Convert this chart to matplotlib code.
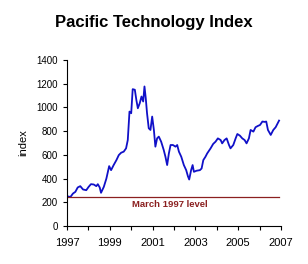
import matplotlib
matplotlib.use("Agg")
import matplotlib.pyplot as plt
from matplotlib.ticker import MultipleLocator

plt.rcParams['font.family'] = ['Liberation Sans', 'DejaVu Sans']

# index values
years = [1997.00, 1997.16, 1997.28, 1997.39, 1997.50, 1997.62, 1997.75, 1997.90,
         1998.01, 1998.12, 1998.25, 1998.37, 1998.44, 1998.53, 1998.59, 1998.72,
         1998.84, 1998.97, 1999.06, 1999.18, 1999.31, 1999.42, 1999.53, 1999.65,
         1999.76, 1999.84, 1999.92, 2000.00, 2000.07, 2000.17, 2000.24, 2000.31,
         2000.40, 2000.48, 2000.56, 2000.62, 2000.68, 2000.74, 2000.82, 2000.90,
         2000.98, 2001.06, 2001.13, 2001.21, 2001.29, 2001.40, 2001.52, 2001.60,
         2001.68, 2001.76, 2001.84, 2001.95, 2002.07, 2002.15, 2002.23, 2002.34,
         2002.46, 2002.57, 2002.65, 2002.71, 2002.80, 2002.87, 2002.93, 2003.05,
         2003.21, 2003.29, 2003.37, 2003.47, 2003.55, 2003.71, 2003.83, 2003.94,
         2004.05, 2004.18, 2004.25, 2004.36, 2004.46, 2004.57, 2004.64, 2004.77,
         2004.88, 2004.96, 2005.08, 2005.19, 2005.30, 2005.39, 2005.50, 2005.58,
         2005.71, 2005.81, 2005.92, 2006.02, 2006.13, 2006.24, 2006.31, 2006.39,
         2006.52, 2006.64, 2006.75, 2006.91]
index = [251, 245, 274, 288, 325, 336, 308, 302,
         330, 353, 350, 336, 353, 325, 280, 330,
         400, 505, 471, 514, 556, 598, 618, 627,
         655, 725, 965, 951, 1154, 1149, 1064, 993,
         1036, 1092, 1050, 1177, 1078, 951, 824, 810,
         923, 810, 669, 739, 754, 711, 641, 584,
         514, 612, 683, 683, 669, 683, 627, 584,
         514, 471, 420, 392, 471, 514, 457, 466,
         471, 485, 556, 584, 612, 655, 692, 711,
         739, 725, 697, 725, 739, 683, 655, 683,
         739, 776, 762, 739, 725, 697, 739, 810,
         796, 833, 844, 852, 881, 878, 881, 810,
         768, 810, 833, 889]

march97_level = 245
level_text = "March 1997 level"
xtick_years = [1997, 1999, 2001, 2003, 2005, 2007]

fig = plt.figure(figsize=(3.08, 2.64), dpi=100)
ax = fig.add_axes([67/308, 1 - 226/264, (281-67)/308, (226-60)/264])

ax.plot(years, index, color='#1010c8', lw=1.3)
ax.plot([1997, 2006.9], [march97_level, march97_level], color='#8b2020', lw=0.9)
ax.text(2001.8, 185, level_text, color='#8b2020', fontsize=6.8,
        fontweight='bold', ha='center', va='center')

ax.set_xlim(1997, 2007)
ax.set_ylim(0, 1400)
ax.set_xticks(xtick_years)
ax.xaxis.set_minor_locator(MultipleLocator(1))
ax.yaxis.set_major_locator(MultipleLocator(200))
ax.spines['top'].set_visible(False)
ax.spines['right'].set_visible(False)
ax.tick_params(axis='both', which='both', direction='out', length=3, width=0.8)
ax.tick_params(axis='y', labelsize=7)
ax.tick_params(axis='x', labelsize=8, pad=6)
ax.set_ylabel("index", fontsize=8)
ax.yaxis.set_label_coords(-0.18, 0.5)

fig.suptitle("Pacific Technology Index", fontsize=12, fontweight='bold', y=1 - 23/264, va='center')

fig.savefig("out.png", dpi=100)
